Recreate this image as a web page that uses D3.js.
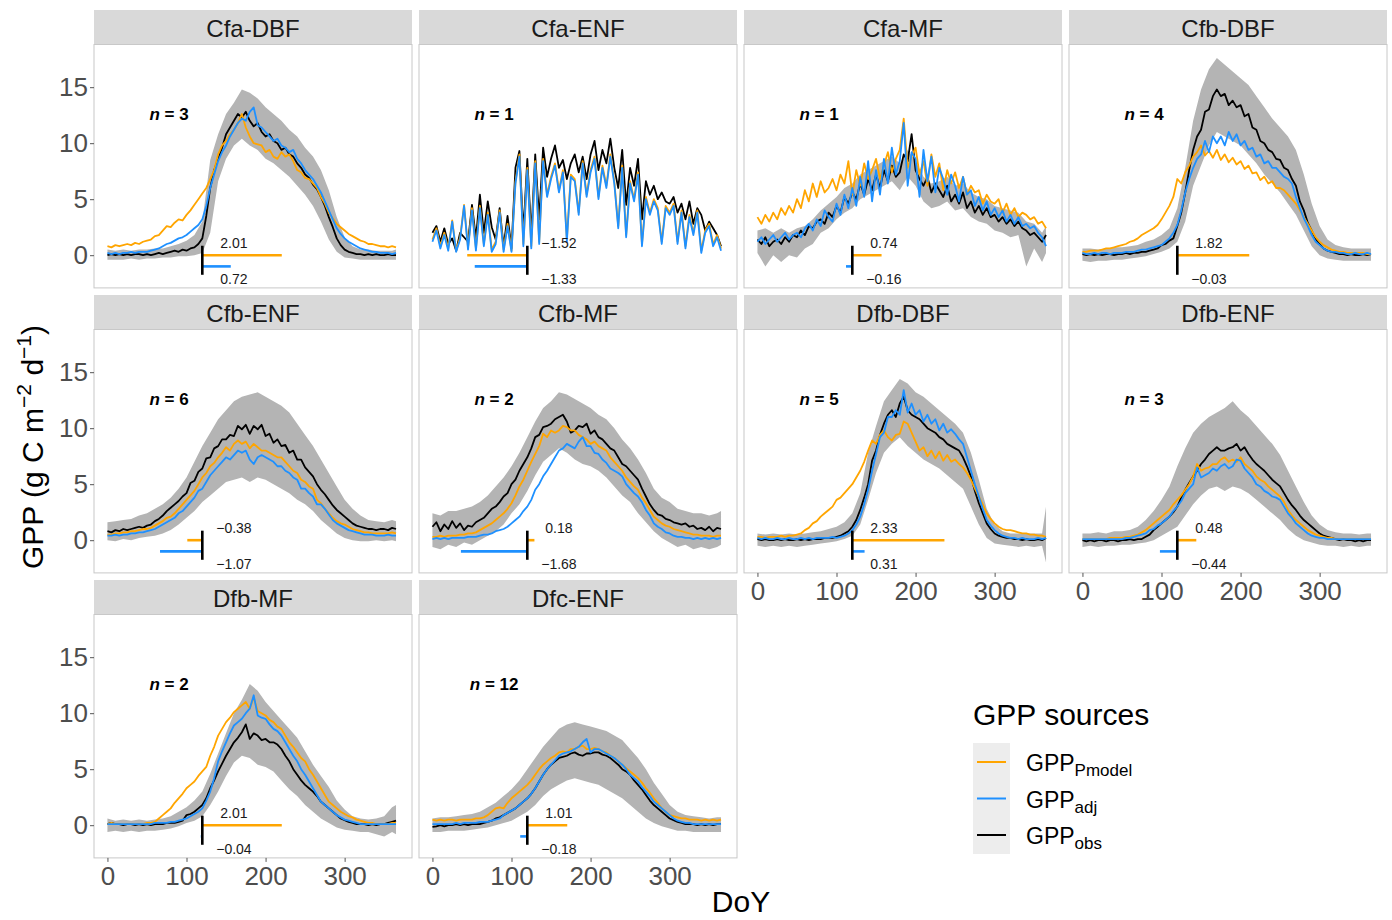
<!DOCTYPE html>
<html>
<head>
<meta charset="utf-8">
<script src="https://cdn.jsdelivr.net/npm/d3@7"></script>
<style>
  body { margin: 0; background: #fff; }
  svg { font-family: "Liberation Sans", Arial, sans-serif; }
</style>
</head>
<body>
<script>
// facet names, site counts and bias annotations
var panelNames = ["Cfa-DBF", "Cfa-ENF", "Cfa-MF", "Cfb-DBF", "Cfb-ENF", "Cfb-MF", "Dfb-DBF", "Dfb-ENF", "Dfb-MF", "Dfc-ENF"];
var siteCounts = [3, 1, 1, 4, 6, 2, 5, 3, 2, 12];
var biasPmodel = [2.01, -1.52, 0.74, 1.82, -0.38, 0.18, 2.33, 0.48, 2.01, 1.01];
var biasAdj = [0.72, -1.33, -0.16, -0.03, -1.07, -1.68, 0.31, -0.44, -0.04, -0.18];
var yTicks = [0, 5, 10, 15];
var xTicks = [0, 100, 200, 300];

// day of year for the lines (every 5 days) and for the obs ribbon (every 10 days)
var lineDays = d3.range(0, 366, 5);
var bandDays = d3.range(0, 361, 10).concat([365]);

// ---- Cfa-DBF
var obsCfaDBF = [
0.0,0.1,0.0,0.1,0.0,0.1,0.0,0.1,0.1,0.0,
0.1,0.0,0.1,0.2,0.1,0.2,0.3,0.4,0.3,0.5,
0.4,0.6,0.7,1.0,1.5,3.5,6.0,7.6,8.6,9.6,
10.8,11.4,12.0,12.6,12.3,12.8,12.0,11.5,11.8,11.0,
10.6,10.8,10.2,10.0,9.4,9.6,9.0,8.8,8.2,7.8,
7.2,6.9,6.3,5.9,5.2,4.4,3.4,2.5,1.5,0.9,
0.5,0.3,0.2,0.1,0.1,0.0,0.1,0.0,0.1,0.0,
0.0,0.1,0.0,0.0];
var pmodelCfaDBF = [
0.8,0.7,0.9,0.8,0.9,1.0,0.9,1.1,1.0,1.2,
1.3,1.4,1.7,1.8,2.2,2.6,2.5,2.9,3.2,3.1,
3.6,4.0,4.5,5.0,5.5,6.0,6.8,7.6,9.0,9.8,
10.2,10.8,11.2,11.8,12.6,11.4,10.6,10.0,9.9,9.8,
9.2,9.4,8.8,8.6,9.2,8.8,9.0,8.4,7.6,7.4,
6.9,6.8,6.4,6.0,5.2,4.6,3.8,3.3,2.8,2.5,
2.2,1.9,1.7,1.5,1.3,1.2,1.0,1.0,0.9,0.8,
0.8,0.7,0.8,0.7];
var adjCfaDBF = [
0.2,0.1,0.2,0.1,0.2,0.2,0.3,0.2,0.3,0.3,
0.3,0.4,0.5,0.6,0.8,1.0,1.1,1.3,1.5,1.6,
1.8,2.1,2.4,2.7,3.2,4.4,6.0,7.2,8.4,9.2,
9.8,10.6,11.2,11.8,12.2,12.0,12.8,13.2,11.6,11.4,
11.0,10.6,10.2,10.4,9.8,9.6,9.2,9.4,8.6,8.2,
7.6,7.2,6.8,6.2,5.6,4.8,4.0,3.2,2.4,1.9,
1.5,1.2,1.0,0.8,0.6,0.5,0.4,0.3,0.3,0.2,
0.2,0.2,0.1,0.2];
var hiCfaDBF = [0.5,0.4,0.5,0.4,0.5,0.5,0.6,0.6,0.8,1.0, 1.3,1.8,3.0,8.5,10.8,12.6,13.6,14.8,14.5,14.0, 13.2,12.6,12.0,11.2,10.6,9.6,8.8,7.6,5.8,3.4, 1.6,0.8,0.5,0.5,0.4,0.4,0.4,0.5];
var loCfaDBF = [-0.4,-0.4,-0.4,-0.3,-0.4,-0.3,-0.3,-0.2,-0.2,-0.1, -0.1,0.0,0.2,2.0,6.6,8.6,9.8,10.4,9.8,9.4, 8.6,8.2,7.6,7.0,6.2,5.4,4.4,3.0,1.4,0.3, -0.2,-0.3,-0.4,-0.4,-0.4,-0.4,-0.4,-0.4];

// ---- Cfa-ENF (single site, no ribbon)
var obsCfaENF = [
2.0,2.6,1.2,2.4,1.0,1.5,0.4,2.0,1.6,1.2,
4.5,1.5,5.4,2.0,4.8,2.5,1.4,4.2,0.8,3.5,
0.6,7.8,9.3,2.0,8.6,1.8,9.0,3.2,9.6,7.0,
8.6,9.8,7.8,8.5,6.8,8.2,9.0,7.4,8.8,6.8,
9.0,10.2,7.6,9.4,8.2,10.4,7.8,6.0,9.4,4.5,
7.8,6.2,8.6,3.2,6.6,5.4,6.2,5.0,5.6,4.8,
4.6,5.2,3.8,4.6,3.2,4.8,2.8,4.2,3.6,2.2,
3.0,2.4,1.8,0.8];
var pmodelCfaENF = [
1.4,2.4,0.8,2.0,0.6,3.1,0.4,1.6,4.5,0.7,
4.2,0.6,4.4,1.0,3.8,0.5,1.2,4.0,0.5,2.8,
0.4,6.6,9.0,1.0,7.8,0.8,8.4,1.2,8.6,5.4,
7.0,8.2,5.8,7.6,1.4,7.2,6.8,3.8,8.4,5.4,
7.6,8.8,5.2,8.0,6.2,9.0,6.6,2.6,8.0,1.8,
6.6,5.0,7.4,1.0,5.2,3.8,5.0,4.2,1.2,4.4,
3.8,4.6,1.2,4.0,0.8,3.6,2.0,4.0,0.4,2.2,
2.8,1.0,1.8,0.6];
var adjCfaENF = [
1.2,2.2,0.6,1.8,0.4,3.0,0.3,1.4,4.4,0.5,
4.0,0.4,4.2,0.8,3.6,0.3,1.0,3.8,0.3,2.6,
0.3,6.4,8.8,0.8,7.6,0.6,8.2,1.0,8.4,5.2,
6.8,8.0,5.6,7.4,1.2,7.0,6.6,3.6,8.2,5.2,
7.4,8.6,5.0,7.8,6.0,8.8,6.4,2.4,7.8,1.6,
6.4,4.8,7.2,0.8,5.0,3.6,4.8,4.0,1.0,4.2,
3.6,4.4,1.0,3.8,0.6,3.4,1.8,3.8,0.2,2.0,
2.6,0.8,1.6,0.4];
var hiCfaENF = [];
var loCfaENF = [];

// ---- Cfa-MF
var obsCfaMF = [
1.4,1.0,1.6,0.8,1.2,1.4,1.0,1.6,1.2,1.8,
1.6,2.2,1.8,2.6,2.4,3.0,3.2,2.8,3.8,3.4,
4.4,3.8,5.2,4.6,5.6,5.0,6.4,5.4,6.8,5.8,
7.2,6.0,7.6,6.6,8.0,7.0,7.4,9.0,8.4,10.8,
7.6,6.8,6.2,7.0,5.6,6.4,5.8,5.2,6.2,4.8,
5.4,4.6,5.6,4.2,4.8,3.8,4.4,3.6,4.2,3.4,
3.6,3.0,3.4,2.8,3.2,2.6,3.0,2.4,2.2,1.8,
2.0,1.6,1.2,1.8];
var pmodelCfaMF = [
3.4,2.8,3.6,3.0,3.8,3.2,4.2,3.6,4.4,3.8,
5.0,4.2,5.8,4.8,6.4,5.2,6.6,5.6,6.0,6.8,
5.8,7.2,6.4,8.4,5.4,7.6,6.2,8.2,6.8,7.6,
8.6,6.8,8.0,9.2,7.4,8.6,9.4,12.2,7.8,8.8,
9.6,7.2,8.4,6.2,9.0,7.0,8.2,5.8,7.6,6.4,
7.4,6.0,7.0,5.4,6.2,5.6,5.8,4.6,5.4,4.8,
4.6,5.0,3.8,4.6,3.6,4.2,3.4,3.8,3.6,3.2,
3.4,2.8,3.0,2.4];
var adjCfaMF = [
1.2,1.6,1.0,1.4,1.8,1.2,1.6,2.0,1.4,1.8,
2.0,1.6,2.4,2.8,2.2,3.2,2.6,4.0,3.4,3.0,
4.6,3.6,5.4,4.2,6.0,4.4,7.0,5.2,8.4,4.8,
7.6,5.4,8.6,6.4,9.6,7.2,8.4,11.8,6.2,9.2,
8.6,5.2,9.4,6.6,8.8,5.6,7.8,6.8,5.4,7.2,
6.2,4.8,7.0,5.4,5.8,4.4,5.2,4.0,4.8,3.6,
4.2,3.4,4.0,3.0,3.6,2.8,3.4,2.6,2.8,2.4,
2.6,2.0,1.6,0.8];
var hiCfaMF = [2.2,2.4,2.0,2.4,2.0,2.4,2.6,3.2,4.0,4.6, 5.2,6.0,6.4,7.2,7.6,8.0,8.4,8.8,8.2,9.4, 8.4,7.0,6.4,6.6,7.0,6.2,6.4,5.6,5.2,5.0, 4.4,4.2,4.0,3.8,3.0,2.8,2.0,2.6];
var loCfaMF = [0.2,-1.0,0.0,-0.6,0.0,-0.2,0.6,1.0,2.0,2.4, 3.2,3.8,4.2,5.0,5.4,5.8,6.2,6.6,5.8,7.0, 6.2,4.8,4.2,4.4,4.8,4.0,4.2,3.4,3.0,2.8, 2.2,2.0,1.6,1.8,-1.0,0.6,-0.6,0.2];

// ---- Cfb-DBF
var obsCfbDBF = [
0.1,0.0,0.1,0.0,0.1,0.0,0.1,0.1,0.0,0.1,
0.1,0.2,0.1,0.2,0.2,0.3,0.3,0.4,0.5,0.6,
0.9,1.0,1.3,1.5,2.6,3.8,5.6,7.6,9.4,10.6,
11.2,12.8,13.0,14.2,14.8,14.2,14.4,13.4,13.8,13.2,
13.4,12.4,12.6,11.4,11.2,10.2,10.0,9.4,9.2,8.6,
8.5,7.8,7.6,6.8,6.2,4.8,4.0,2.9,2.2,1.4,
1.0,0.6,0.4,0.3,0.2,0.1,0.1,0.0,0.1,0.0,
0.0,0.1,0.0,0.1];
var pmodelCfbDBF = [
0.3,0.3,0.4,0.4,0.4,0.5,0.6,0.6,0.7,0.8,
0.9,1.0,1.2,1.3,1.5,1.8,2.0,2.2,2.4,2.7,
3.2,3.8,4.4,5.2,6.8,6.4,7.4,8.0,8.8,9.2,
9.8,8.9,9.3,8.7,9.4,8.5,9.0,8.3,8.7,8.1,
8.4,7.7,8.0,7.3,7.4,6.7,7.0,6.4,6.6,6.0,
6.0,5.8,5.4,5.0,4.6,4.0,3.4,2.8,2.2,1.6,
1.2,0.9,0.7,0.5,0.4,0.3,0.3,0.2,0.2,0.2,
0.2,0.2,0.1,0.1];
var adjCfbDBF = [
0.2,0.1,0.1,0.2,0.1,0.2,0.2,0.1,0.2,0.2,
0.2,0.3,0.3,0.3,0.4,0.5,0.5,0.6,0.7,0.8,
0.9,1.2,1.5,2.0,2.7,4.0,5.6,6.8,7.8,8.6,
9.0,10.2,9.2,10.6,10.0,10.6,9.8,11.0,10.2,10.8,
9.8,10.2,9.4,9.6,8.8,9.0,8.2,8.4,7.8,7.8,
7.4,7.0,6.8,6.4,5.2,4.2,3.3,2.6,1.8,1.2,
0.9,0.6,0.4,0.3,0.3,0.2,0.2,0.1,0.1,0.2,
0.1,0.1,0.2,0.1];
var hiCfbDBF = [0.6,0.6,0.5,0.6,0.7,0.7,0.8,0.9,1.2,1.4, 1.8,2.4,4.2,7.8,12.0,14.8,16.6,17.6,17.0,16.4, 15.8,15.2,14.2,13.2,12.2,11.4,10.6,9.4,7.2,4.6, 2.6,1.4,0.9,0.7,0.6,0.6,0.6,0.6];
var loCfbDBF = [-0.5,-0.6,-0.5,-0.5,-0.4,-0.4,-0.3,-0.2,-0.1,0.1, 0.3,0.6,1.2,3.0,6.2,8.0,9.8,11.0,10.6,10.2, 9.8,9.0,8.2,7.2,6.4,5.6,4.6,3.6,2.2,0.8, 0.0,-0.3,-0.4,-0.5,-0.5,-0.5,-0.5,-0.5];

// ---- Cfb-ENF
var obsCfbENF = [
0.8,0.7,0.9,0.8,1.0,0.9,1.0,1.1,1.2,1.1,
1.3,1.4,1.7,1.9,2.2,2.6,2.9,3.2,3.5,3.9,
4.2,5.1,5.3,6.1,6.4,7.3,7.4,8.2,8.4,9.0,
9.0,9.4,9.3,10.2,9.9,10.3,9.5,10.2,9.9,10.3,
9.3,9.5,8.7,9.0,8.4,8.5,7.8,8.0,7.2,7.2,
6.5,6.1,5.7,5.0,4.5,4.1,3.6,3.1,2.7,2.4,
2.1,1.8,1.5,1.3,1.2,1.1,1.0,1.0,0.9,1.0,
1.0,0.9,1.1,1.0];
var pmodelCfbENF = [
0.5,0.5,0.6,0.6,0.7,0.7,0.8,0.8,0.9,1.0,
1.0,1.1,1.3,1.5,1.7,2.0,2.1,2.4,2.8,3.2,
3.6,4.0,4.4,5.0,5.6,6.0,6.6,6.9,7.4,7.8,
8.3,8.0,8.6,8.9,8.6,8.8,8.2,8.6,8.3,8.0,
8.0,7.8,7.6,7.4,7.4,7.0,6.6,6.2,6.0,5.4,
5.2,4.8,4.6,3.6,3.3,2.8,2.4,2.0,1.7,1.5,
1.4,1.2,1.0,0.9,0.8,0.7,0.7,0.6,0.6,0.6,
0.6,0.6,0.7,0.6];
var adjCfbENF = [
0.4,0.4,0.5,0.4,0.5,0.5,0.6,0.6,0.7,0.7,
0.8,0.9,1.0,1.2,1.4,1.6,1.8,2.0,2.4,2.6,
3.0,3.4,3.8,4.4,4.6,5.2,5.8,6.2,6.6,7.0,
7.4,7.2,7.6,8.0,7.8,8.0,7.2,6.8,7.4,7.6,
7.4,7.2,7.0,6.6,6.6,6.2,6.0,5.6,5.4,4.6,
4.6,4.2,3.9,3.2,3.2,2.8,2.3,1.8,1.5,1.3,
1.1,0.9,0.8,0.7,0.6,0.5,0.5,0.5,0.4,0.4,
0.4,0.5,0.4,0.4];
var hiCfbENF = [1.6,1.7,1.8,1.9,2.2,2.4,2.8,3.2,3.8,4.6, 5.6,7.0,8.4,9.6,10.8,11.6,12.4,12.8,13.0,13.2, 12.8,12.4,12.0,11.4,10.4,9.4,8.4,7.2,6.0,4.8, 3.6,2.8,2.2,1.8,1.7,1.6,1.8,1.7];
var loCfbENF = [0.0,-0.1,0.1,0.0,0.2,0.3,0.4,0.6,0.9,1.4, 2.0,2.6,3.4,4.0,4.6,5.2,5.4,5.6,5.2,5.6, 5.4,5.0,4.6,4.2,3.6,3.2,2.6,1.8,1.2,0.6, 0.2,0.0,-0.1,-0.1,0.0,-0.1,0.0,-0.1];

// ---- Cfb-MF
var obsCfbMF = [
1.2,1.6,0.8,1.4,1.0,1.7,1.1,1.5,0.9,1.3,
1.2,1.6,1.8,2.0,2.4,2.8,3.0,3.4,3.9,4.2,
5.0,5.4,6.2,6.8,7.4,8.2,9.2,9.4,10.1,10.2,
10.4,10.8,11.0,11.2,10.6,9.6,9.8,10.2,10.1,10.4,
9.5,9.8,9.2,9.0,8.6,8.2,8.0,7.4,6.8,6.6,
6.2,5.8,5.4,4.6,3.9,3.2,2.7,2.3,2.2,1.9,
1.8,1.6,1.5,1.4,1.5,1.2,1.3,1.0,1.1,0.9,
1.2,0.8,1.1,1.0];
var pmodelCfbMF = [
0.3,0.3,0.4,0.3,0.4,0.4,0.4,0.5,0.5,0.6,
0.6,0.7,0.9,1.1,1.3,1.5,1.8,2.1,2.4,2.8,
3.3,4.0,4.8,5.4,6.2,7.0,7.7,8.4,9.5,9.2,
9.8,9.6,9.8,10.2,10.1,9.8,9.8,9.4,9.2,9.0,
8.6,8.8,8.4,8.2,8.0,7.4,7.0,6.6,6.2,5.6,
5.2,4.8,4.5,3.8,3.3,2.7,2.1,1.8,1.5,1.3,
1.2,1.0,0.9,0.8,0.7,0.6,0.5,0.5,0.4,0.4,
0.4,0.3,0.4,0.4];
var adjCfbMF = [
0.1,0.2,0.1,0.2,0.1,0.2,0.2,0.2,0.2,0.3,
0.3,0.3,0.4,0.5,0.5,0.6,0.8,0.9,1.0,1.2,
1.5,1.8,2.1,2.6,3.0,3.6,4.5,5.0,5.7,6.2,
6.8,7.4,8.0,8.2,8.6,8.4,8.2,8.8,9.2,8.4,
8.4,7.8,7.7,7.2,6.9,6.4,6.2,6.0,5.7,5.0,
4.6,4.2,3.9,3.4,2.7,2.2,1.5,1.2,1.0,0.7,
0.6,0.4,0.3,0.3,0.2,0.2,0.1,0.2,0.1,0.2,
0.1,0.2,0.1,0.2];
var hiCfbMF = [2.4,2.2,2.6,2.6,2.8,3.0,3.4,4.0,4.8,5.6, 6.6,7.8,9.2,10.6,11.8,12.4,13.2,13.0,12.6,12.2, 11.8,11.2,10.8,10.0,9.0,8.2,7.2,6.0,4.6,3.8, 3.4,2.8,2.6,2.4,2.4,2.2,2.4,2.6];
var loCfbMF = [-0.6,-0.8,-0.4,-0.6,-0.2,-0.4,0.0,0.4,0.8,1.4, 2.4,3.2,4.4,5.8,7.0,7.6,8.2,7.8,7.2,6.8, 6.6,6.2,5.6,4.8,4.0,3.4,2.4,1.6,0.8,0.2, -0.2,-0.6,-0.4,-0.8,-0.6,-0.8,-0.6,-0.4];

// ---- Dfb-DBF
var obsDfbDBF = [
0.1,0.0,0.1,0.0,0.0,0.1,0.0,0.1,0.0,0.0,
0.1,0.0,0.1,0.0,0.1,0.1,0.1,0.2,0.2,0.2,
0.3,0.4,0.6,0.8,1.2,1.8,2.7,3.8,5.0,7.1,
8.0,9.4,10.4,11.2,11.6,11.0,12.2,12.8,11.6,11.2,
11.0,10.8,10.4,10.0,9.8,9.6,9.2,9.0,8.6,8.4,
8.2,8.0,7.4,6.6,5.7,4.4,3.3,2.4,1.5,1.0,
0.6,0.4,0.3,0.2,0.2,0.1,0.1,0.0,0.1,0.0,
0.0,0.1,0.0,0.2];
var pmodelDfbDBF = [
0.3,0.3,0.2,0.3,0.3,0.3,0.4,0.3,0.4,0.4,
0.5,0.6,0.9,1.1,1.5,1.7,2.1,2.4,2.7,3.0,
3.6,3.8,4.2,4.6,5.0,5.6,6.2,7.0,8.0,8.9,
8.6,9.4,9.8,9.2,8.9,9.4,9.5,10.6,10.4,9.6,
8.8,8.0,8.3,7.5,8.0,7.3,7.9,7.1,7.6,7.0,
7.2,6.8,6.5,6.0,5.4,4.6,3.9,3.2,2.4,1.9,
1.5,1.2,1.0,0.9,0.9,0.8,0.7,0.6,0.6,0.5,
0.5,0.4,0.4,0.3];
var adjDfbDBF = [
0.2,0.1,0.2,0.1,0.1,0.2,0.1,0.1,0.2,0.1,
0.1,0.2,0.1,0.2,0.1,0.2,0.2,0.2,0.2,0.3,
0.2,0.3,0.4,0.6,0.9,1.4,2.1,3.2,4.5,6.2,
7.7,9.2,9.6,11.0,11.0,11.6,11.2,13.4,11.4,12.2,
11.2,11.6,10.6,11.2,10.4,10.8,9.8,10.4,9.6,9.9,
9.5,9.0,8.6,7.4,6.2,5.0,3.9,2.8,1.8,1.3,
0.9,0.6,0.4,0.3,0.2,0.2,0.1,0.2,0.1,0.1,
0.1,0.2,0.1,0.2];
var hiDfbDBF = [0.6,0.5,0.6,0.5,0.6,0.5,0.6,0.7,0.8,1.0, 1.2,1.6,2.4,4.2,7.8,10.2,12.4,13.4,14.4,14.0, 13.2,12.8,12.2,11.6,11.0,10.4,9.6,7.8,5.4,2.8, 1.4,0.8,0.6,0.6,0.6,0.6,0.6,3.0];
var loDfbDBF = [-0.5,-0.6,-0.5,-0.6,-0.5,-0.6,-0.5,-0.4,-0.3,-0.2, -0.1,0.1,0.4,1.4,3.6,6.0,7.8,8.6,9.2,8.4, 7.8,7.2,6.8,6.4,5.8,5.2,4.6,3.0,1.4,0.2, -0.3,-0.4,-0.5,-0.6,-0.5,-0.6,-0.5,-2.0];

// ---- Dfb-ENF
var obsDfbENF = [
0.0,-0.1,0.0,-0.1,0.0,0.0,-0.1,0.0,0.0,-0.1,
0.0,0.0,0.1,0.0,0.1,0.1,0.3,0.5,0.9,1.2,
1.5,1.8,2.1,2.5,3.0,3.8,4.5,5.1,5.7,6.2,
6.8,7.2,7.7,8.0,8.3,8.0,8.0,8.2,8.3,8.6,
8.0,8.3,7.7,7.2,6.8,6.5,6.2,5.8,5.4,5.1,
4.8,4.2,3.6,3.1,2.7,2.2,1.8,1.5,1.2,0.9,
0.6,0.4,0.3,0.2,0.1,0.0,0.1,0.0,0.0,-0.1,
0.0,-0.1,0.0,0.0];
var pmodelDfbENF = [
0.1,0.1,0.1,0.1,0.1,0.1,0.1,0.2,0.2,0.2,
0.2,0.3,0.3,0.4,0.5,0.7,0.9,1.2,1.5,1.8,
2.1,2.4,2.7,3.2,3.6,4.0,4.5,5.0,5.7,6.8,
6.2,6.4,6.5,6.8,6.8,7.2,7.4,7.0,7.2,7.0,
7.4,6.8,6.5,6.2,5.7,5.4,5.2,4.8,4.5,4.2,
3.9,3.4,2.7,2.2,1.8,1.5,1.2,0.9,0.7,0.5,
0.4,0.3,0.2,0.2,0.1,0.1,0.1,0.1,0.1,0.1,
0.1,0.1,0.1,0.1];
var adjDfbENF = [
0.1,0.1,0.1,0.1,0.1,0.1,0.1,0.1,0.1,0.1,
0.1,0.2,0.2,0.3,0.4,0.5,0.6,0.9,1.0,1.3,
1.5,1.8,2.1,2.6,3.0,3.5,4.2,4.6,5.0,6.5,
5.6,5.8,6.0,6.4,6.2,6.6,6.8,6.4,6.6,7.2,
7.1,6.4,6.0,5.6,5.0,4.8,4.4,4.2,3.9,3.8,
3.6,3.0,2.4,2.0,1.5,1.2,0.9,0.6,0.4,0.3,
0.2,0.2,0.1,0.1,0.1,0.1,0.1,0.1,0.1,0.1,
0.1,0.1,0.1,0.1];
var hiDfbENF = [0.6,0.6,0.7,0.6,0.8,0.8,0.9,1.2,1.8,2.6, 3.6,4.8,6.6,8.2,9.6,10.4,11.0,11.4,11.8,12.4, 11.6,11.0,10.2,9.4,8.6,7.6,6.2,4.8,3.4,2.2, 1.4,0.9,0.7,0.6,0.6,0.5,0.6,0.6];
var loDfbENF = [-0.6,-0.5,-0.6,-0.5,-0.5,-0.4,-0.4,-0.3,-0.2,0.0, 0.4,0.8,1.2,2.2,3.2,4.0,4.6,4.8,4.4,4.8, 4.6,4.2,3.6,3.0,2.4,1.8,1.0,0.4,0.0,-0.2, -0.4,-0.5,-0.5,-0.6,-0.5,-0.6,-0.5,-0.5];

// ---- Dfb-MF
var obsDfbMF = [
0.1,0.2,0.1,0.1,0.0,0.1,0.1,0.0,0.1,0.0,
0.1,0.0,0.1,0.1,0.1,0.2,0.2,0.2,0.3,0.4,
0.9,1.0,1.2,1.5,1.8,2.4,3.3,4.0,4.8,5.5,
6.2,6.8,7.4,7.8,8.3,9.0,7.7,8.2,8.0,7.6,
7.7,7.4,7.4,7.2,6.8,6.2,5.7,5.0,4.5,4.0,
3.6,3.3,3.0,2.6,2.1,1.8,1.5,1.2,0.9,0.6,
0.45,0.3,0.2,0.1,0.1,0.1,0.0,0.1,0.0,0.1,
0.1,0.2,0.3,0.4];
var pmodelDfbMF = [
0.1,0.2,0.1,0.1,0.1,0.1,0.1,0.1,0.1,0.1,
0.2,0.2,0.3,0.6,0.9,1.2,1.5,2.0,2.4,2.8,
3.3,3.6,3.9,4.4,4.8,5.2,6.2,7.0,8.0,8.6,
9.2,9.6,10.1,10.4,10.7,11.0,10.4,11.4,10.2,10.0,
9.8,9.4,9.2,8.8,8.6,8.0,7.4,7.0,6.5,6.0,
5.7,5.0,4.5,3.9,3.3,2.7,2.1,1.8,1.5,1.2,
1.0,0.8,0.7,0.5,0.4,0.3,0.2,0.2,0.1,0.1,
0.1,0.1,0.2,0.2];
var adjDfbMF = [
0.1,0.1,0.1,0.1,0.1,0.1,0.1,0.1,0.1,0.1,
0.1,0.1,0.2,0.2,0.2,0.2,0.3,0.3,0.4,0.5,
0.6,0.8,1.0,1.2,1.5,2.2,3.0,4.2,5.7,6.6,
7.4,8.2,8.9,9.2,9.5,10.0,10.4,11.6,9.8,9.6,
9.5,9.0,8.6,8.4,8.0,7.4,6.8,6.2,5.7,5.0,
4.5,3.9,3.3,2.7,2.1,1.8,1.5,1.2,0.9,0.7,
0.5,0.4,0.3,0.2,0.1,0.1,0.1,0.1,0.1,0.1,
0.1,0.1,0.1,0.1];
var hiDfbMF = [0.6,0.4,0.5,0.4,0.5,0.4,0.5,0.6,0.8,1.2, 1.6,2.2,3.0,4.6,6.4,8.2,10.0,11.2,12.6,12.0, 11.0,10.2,9.4,8.6,7.8,6.6,5.4,4.4,3.4,2.2, 1.4,0.8,0.6,0.5,0.6,0.8,1.6,1.8];
var loDfbMF = [-0.6,-0.5,-0.6,-0.5,-0.6,-0.5,-0.5,-0.4,-0.3,-0.1, 0.2,0.4,0.8,1.8,3.0,4.4,5.6,6.2,6.0,5.4, 5.2,4.8,4.0,3.2,2.6,1.8,1.2,0.6,0.2,-0.2, -0.4,-0.5,-0.6,-0.6,-0.8,-1.0,-0.6,-0.8];

// ---- Dfc-ENF
var obsDfcENF = [
-0.15,-0.1,0.0,-0.1,0.0,0.0,0.1,0.0,0.1,0.0,
0.1,0.1,0.1,0.2,0.3,0.4,0.6,0.7,0.9,1.1,
1.3,1.5,1.8,2.1,2.4,2.8,3.3,3.9,4.5,5.0,
5.4,5.7,6.0,6.1,6.2,6.4,6.5,6.3,6.2,6.4,
6.4,6.5,6.5,6.3,6.2,6.0,5.7,5.4,5.0,4.8,
4.5,4.0,3.6,3.2,2.7,2.2,1.8,1.5,1.2,0.9,
0.6,0.45,0.3,0.2,0.1,0.1,0.1,0.0,0.1,0.0,
0.1,0.0,0.1,0.1];
var pmodelDfcENF = [
0.5,0.4,0.5,0.4,0.5,0.5,0.4,0.5,0.5,0.5,
0.5,0.6,0.6,0.7,0.9,1.2,1.5,1.6,1.5,2.0,
2.4,2.7,3.0,3.3,3.6,4.0,4.5,5.0,5.4,5.7,
6.0,6.2,6.5,6.6,6.5,6.8,6.8,7.0,7.1,6.8,
6.8,6.9,6.8,6.6,6.5,6.2,6.0,5.7,5.4,5.1,
4.8,4.5,4.2,3.8,3.3,2.9,2.4,2.0,1.5,1.2,
0.9,0.8,0.7,0.6,0.6,0.5,0.5,0.5,0.4,0.5,
0.4,0.5,0.4,0.5];
var adjDfcENF = [
0.1,0.1,0.1,0.1,0.1,0.1,0.2,0.1,0.2,0.2,
0.2,0.2,0.3,0.3,0.3,0.4,0.5,0.6,0.9,1.1,
1.3,1.5,1.8,2.1,2.4,2.8,3.3,3.9,4.5,5.0,
5.4,5.8,6.2,6.4,6.5,6.6,6.8,7.0,7.4,7.7,
6.5,6.8,6.8,6.6,6.4,6.2,6.0,5.7,5.4,5.0,
4.5,4.2,3.9,3.4,3.0,2.6,2.1,1.8,1.5,1.2,
0.9,0.6,0.4,0.3,0.2,0.2,0.1,0.1,0.1,0.1,
0.1,0.1,0.1,0.1];
var hiDfcENF = [0.6,0.7,0.7,0.8,0.9,1.0,1.2,1.6,2.0,2.6, 3.2,4.0,5.0,6.0,7.0,7.8,8.6,9.0,9.2,9.0, 8.8,8.6,8.4,8.0,7.6,6.8,6.0,5.0,3.8,2.8, 1.8,1.2,0.9,0.8,0.7,0.6,0.7,0.7];
var loDfcENF = [-0.6,-0.6,-0.5,-0.5,-0.5,-0.4,-0.3,-0.2,0.0,0.2, 0.4,0.8,1.2,1.8,2.6,3.2,3.6,4.0,4.2,4.0, 3.8,3.6,3.2,2.8,2.4,1.8,1.2,0.6,0.2,-0.1, -0.3,-0.5,-0.5,-0.6,-0.6,-0.6,-0.6,-0.6];

// table of the series per facet
var seriesByPanel = {
  "Cfa-DBF": {obs: obsCfaDBF, pmodel: pmodelCfaDBF, adj: adjCfaDBF, hi: hiCfaDBF, lo: loCfaDBF},
  "Cfa-ENF": {obs: obsCfaENF, pmodel: pmodelCfaENF, adj: adjCfaENF, hi: hiCfaENF, lo: loCfaENF},
  "Cfa-MF":  {obs: obsCfaMF,  pmodel: pmodelCfaMF,  adj: adjCfaMF,  hi: hiCfaMF,  lo: loCfaMF},
  "Cfb-DBF": {obs: obsCfbDBF, pmodel: pmodelCfbDBF, adj: adjCfbDBF, hi: hiCfbDBF, lo: loCfbDBF},
  "Cfb-ENF": {obs: obsCfbENF, pmodel: pmodelCfbENF, adj: adjCfbENF, hi: hiCfbENF, lo: loCfbENF},
  "Cfb-MF":  {obs: obsCfbMF,  pmodel: pmodelCfbMF,  adj: adjCfbMF,  hi: hiCfbMF,  lo: loCfbMF},
  "Dfb-DBF": {obs: obsDfbDBF, pmodel: pmodelDfbDBF, adj: adjDfbDBF, hi: hiDfbDBF, lo: loDfbDBF},
  "Dfb-ENF": {obs: obsDfbENF, pmodel: pmodelDfbENF, adj: adjDfbENF, hi: hiDfbENF, lo: loDfbENF},
  "Dfb-MF":  {obs: obsDfbMF,  pmodel: pmodelDfbMF,  adj: adjDfbMF,  hi: hiDfbMF,  lo: loDfbMF},
  "Dfc-ENF": {obs: obsDfcENF, pmodel: pmodelDfcENF, adj: adjDfcENF, hi: hiDfcENF, lo: loDfcENF}
};

var colors = {pmodel: "#FFA500", adj: "#1E90FF", obs: "#000000"};
var minus = function(v) { return v < 0 ? "\u2212" + Math.abs(v).toFixed(2) : v.toFixed(2); };

// layout of the facet grid
var colLeft = [94, 419, 744, 1069],
    rowTop = [10, 295, 580],
    panelW = 318,
    stripH = 34.5,
    plotH = 243.4;

var x = d3.scaleLinear().domain([-17, 385.2]).range([0, panelW]);
var y = d3.scaleLinear().domain([-2.92, 18.81]).range([plotH, 0]);

var line = d3.line()
    .x(function(d) { return x(d[0]); })
    .y(function(d) { return y(d[1]); });

var band = d3.area()
    .x(function(d) { return x(d[0]); })
    .y0(function(d) { return y(d[1]); })
    .y1(function(d) { return y(d[2]); });

var svg = d3.select("body").append("svg")
    .attr("width", 1392)
    .attr("height", 920);

panelNames.forEach(function(name, i) {
  var col = i % 4, row = Math.floor(i / 4);
  var s = seriesByPanel[name];
  var g = svg.append("g")
      .attr("transform", "translate(" + colLeft[col] + "," + rowTop[row] + ")");

  // strip
  g.append("rect")
      .attr("width", panelW)
      .attr("height", stripH)
      .attr("fill", "#d9d9d9");
  g.append("text")
      .attr("x", panelW / 2)
      .attr("y", 26.5)
      .attr("text-anchor", "middle")
      .attr("font-size", 24)
      .attr("fill", "#1a1a1a")
      .text(name);

  var p = g.append("g").attr("transform", "translate(0," + stripH + ")");

  svg.append("clipPath").attr("id", "clip" + i)
    .append("rect").attr("width", panelW).attr("height", plotH);
  var plot = p.append("g").attr("clip-path", "url(#clip" + i + ")");

  // ribbon for observed GPP
  if (s.hi.length) {
    var bandData = bandDays.map(function(d, k) { return [d, s.lo[k], s.hi[k]]; });
    plot.append("path")
        .attr("d", band(bandData))
        .attr("fill", "#b4b4b4");
  }

  ["obs", "pmodel", "adj"].forEach(function(key) {
    var pts = lineDays.map(function(d, k) { return [d, s[key][k]]; });
    plot.append("path")
        .attr("d", line(pts))
        .attr("fill", "none")
        .attr("stroke", colors[key])
        .attr("stroke-width", 1.8)
        .attr("stroke-linejoin", "round");
  });

  // bias bars starting at DoY 120, 50 days per unit of bias
  var start = 120, perUnit = 50;
  plot.append("line")
      .attr("x1", x(start)).attr("x2", x(start + perUnit * biasPmodel[i]))
      .attr("y1", y(0)).attr("y2", y(0))
      .attr("stroke", colors.pmodel).attr("stroke-width", 2.6);
  plot.append("line")
      .attr("x1", x(start)).attr("x2", x(start + perUnit * biasAdj[i]))
      .attr("y1", y(-1)).attr("y2", y(-1))
      .attr("stroke", colors.adj).attr("stroke-width", 2.6);
  plot.append("line")
      .attr("x1", x(start)).attr("x2", x(start))
      .attr("y1", y(0.85)).attr("y2", y(-1.75))
      .attr("stroke", "#000").attr("stroke-width", 2.6);

  p.append("text")
      .attr("x", x(160)).attr("y", y(1.05)).attr("dy", "0.35em")
      .attr("text-anchor", "middle").attr("font-size", 14).attr("fill", "#1a1a1a")
      .text(minus(biasPmodel[i]));
  p.append("text")
      .attr("x", x(160)).attr("y", y(-2.1)).attr("dy", "0.35em")
      .attr("text-anchor", "middle").attr("font-size", 14).attr("fill", "#1a1a1a")
      .text(minus(biasAdj[i]));

  // number of sites
  var nText = p.append("text")
      .attr("x", x(78)).attr("y", y(12.05))
      .attr("text-anchor", "middle")
      .attr("font-size", 17)
      .attr("font-weight", "bold")
      .attr("fill", "#000");
  nText.append("tspan").attr("font-style", "italic").text("n");
  nText.append("tspan").text(" = " + siteCounts[i]);

  // panel border
  p.append("rect")
      .attr("width", panelW)
      .attr("height", plotH)
      .attr("fill", "none")
      .attr("stroke", "#c8c8c8")
      .attr("stroke-width", 1);

  // axes
  if (col === 0) {
    var ya = p.append("g")
        .call(d3.axisLeft(y).tickValues(yTicks).tickSize(4).tickPadding(2));
    ya.select(".domain").remove();
    ya.selectAll("line").attr("stroke", "#555");
    ya.selectAll("text").attr("font-size", 26).attr("fill", "#4d4d4d")
      .attr("font-family", "'Liberation Sans', Arial, sans-serif");
  }
  if (i + 4 >= panelNames.length) {
    var xa = p.append("g")
        .attr("transform", "translate(0," + plotH + ")")
        .call(d3.axisBottom(x).tickValues(xTicks).tickSize(4).tickPadding(5));
    xa.select(".domain").remove();
    xa.selectAll("line").attr("stroke", "#555");
    xa.selectAll("text").attr("font-size", 26).attr("fill", "#4d4d4d")
      .attr("font-family", "'Liberation Sans', Arial, sans-serif");
  }
});

// axis titles
var yTitle = svg.append("text")
    .attr("transform", "translate(43,447) rotate(-90)")
    .attr("text-anchor", "middle")
    .attr("font-size", 30)
    .attr("fill", "#000");
yTitle.append("tspan").text("GPP (g C m");
yTitle.append("tspan").attr("font-size", 21).attr("dy", -12).text("\u22122");
yTitle.append("tspan").attr("dy", 12).text(" d");
yTitle.append("tspan").attr("font-size", 21).attr("dy", -12).text("\u22121");
yTitle.append("tspan").attr("dy", 12).text(")");

svg.append("text")
    .attr("x", 741)
    .attr("y", 912)
    .attr("text-anchor", "middle")
    .attr("font-size", 30)
    .attr("fill", "#000")
    .text("DoY");

// legend
var legendKeys = ["pmodel", "adj", "obs"];
var legendSubs = ["Pmodel", "adj", "obs"];
var legend = svg.append("g").attr("transform", "translate(973,0)");
legend.append("text")
    .attr("x", 0).attr("y", 725)
    .attr("font-size", 30)
    .attr("fill", "#000")
    .text("GPP sources");
legend.append("rect")
    .attr("x", 0).attr("y", 743)
    .attr("width", 37).attr("height", 111)
    .attr("fill", "#ededed");
legendKeys.forEach(function(k, j) {
  var cy = 762 + j * 36.5;
  legend.append("line")
      .attr("x1", 4).attr("x2", 33)
      .attr("y1", cy).attr("y2", cy)
      .attr("stroke", colors[k]).attr("stroke-width", 2);
  var t = legend.append("text")
      .attr("x", 53).attr("y", cy + 9)
      .attr("font-size", 23)
      .attr("fill", "#000");
  t.append("tspan").text("GPP");
  t.append("tspan").attr("font-size", 17).attr("dy", 5).text(legendSubs[j]);
});
</script>
</body>
</html>
